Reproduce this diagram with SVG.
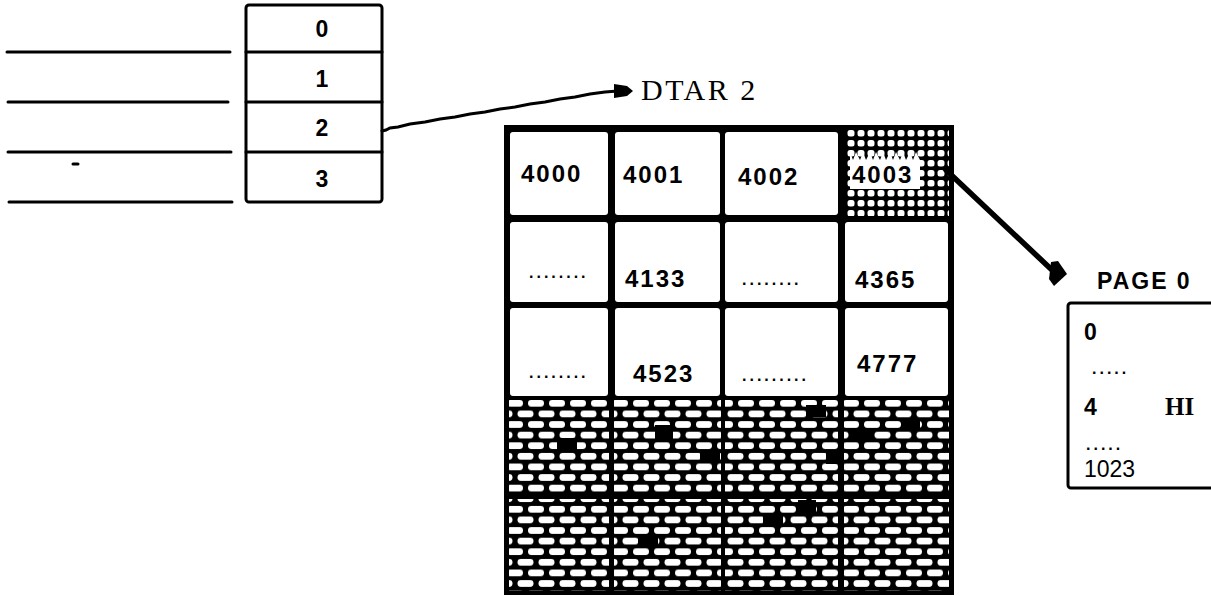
<svg xmlns="http://www.w3.org/2000/svg" width="1211" height="596" viewBox="0 0 1211 596">
<style>
.ln{stroke:#000;stroke-width:3;fill:none;stroke-linecap:round}
.idx{font-family:"Liberation Sans",Arial,sans-serif;font-weight:bold;font-size:23px;text-anchor:middle}
.num{font-family:"Liberation Sans",Arial,sans-serif;font-weight:bold;font-size:24px;letter-spacing:2px}
.dots{font-family:"Liberation Sans",Arial,sans-serif;font-weight:bold;font-size:16px;letter-spacing:3px}
.pg{font-family:"Liberation Sans",Arial,sans-serif;font-size:23px}
.cell{fill:#fff}
</style>
<defs>
<pattern id="brick" patternUnits="userSpaceOnUse" x="505" y="398" width="21" height="21.2">
<rect width="21" height="21.2" fill="#000"/>
<rect x="2" y="2" width="16" height="6.6" rx="3.3" fill="#fff"/>
<rect x="12.5" y="12.6" width="16" height="6.6" rx="3.3" fill="#fff"/>
<rect x="-8.5" y="12.6" width="16" height="6.6" rx="3.3" fill="#fff"/>
</pattern>
<pattern id="dotp" patternUnits="userSpaceOnUse" x="846" y="128" width="10" height="10">
<rect width="10" height="10" fill="#000"/>
<rect x="1.5" y="2" width="7" height="6.5" rx="2.5" fill="#fff"/>
</pattern>
</defs>

<g id="lines">
<line class="ln" x1="7" y1="52" x2="230" y2="52"/>
<line class="ln" x1="8" y1="102" x2="228" y2="102"/>
<line class="ln" x1="8" y1="152" x2="231" y2="152"/>
<line class="ln" x1="9" y1="202" x2="232" y2="202"/>
<line class="ln" x1="73" y1="164" x2="78" y2="164" stroke-width="2"/>
</g>

<g id="table">
<rect x="246" y="5" width="136" height="197" rx="3" fill="#fff" stroke="#000" stroke-width="3"/>
<line class="ln" x1="246" y1="52" x2="382" y2="52"/>
<line class="ln" x1="246" y1="102" x2="382" y2="102"/>
<line class="ln" x1="246" y1="152" x2="382" y2="152"/>
<text class="idx" x="322" y="37">0</text>
<text class="idx" x="322" y="87">1</text>
<text class="idx" x="322" y="136">2</text>
<text class="idx" x="322" y="187">3</text>
</g>

<g id="dtar-label">
<text x="641" y="100" font-family="'Liberation Serif','Times New Roman',serif" font-size="30" letter-spacing="2.5">DTAR 2</text>
</g>

<g id="grid">
<rect x="504" y="125" width="450" height="470" fill="#000"/>
<rect class="cell" x="510" y="132" width="98" height="83" rx="3"/>
<rect class="cell" x="615" y="132" width="105" height="83" rx="3"/>
<rect class="cell" x="725" y="132" width="113" height="83" rx="3"/>
<rect x="845" y="128" width="104" height="88" fill="url(#dotp)"/>
<path d="M850,189 L850,152 L853,160 L856,152 L860,160 L863,152 L866,160 L870,152 L873,160 L876,152 L880,160 L883,152 L886,160 L890,152 L893,160 L896,152 L900,160 L903,152 L906,160 L910,152 L913,160 L916,152 L920,160 L920,189 Z" fill="#fff"/>
<rect class="cell" x="510" y="222" width="98" height="80" rx="3"/>
<rect class="cell" x="615" y="222" width="105" height="80" rx="3"/>
<rect class="cell" x="725" y="222" width="113" height="80" rx="3"/>
<rect class="cell" x="845" y="222" width="103" height="80" rx="3"/>
<rect class="cell" x="510" y="308" width="98" height="88" rx="3"/>
<rect class="cell" x="615" y="308" width="105" height="88" rx="3"/>
<rect class="cell" x="725" y="308" width="113" height="88" rx="3"/>
<rect class="cell" x="845" y="308" width="103" height="88" rx="3"/>
<rect x="509" y="400" width="100" height="95" fill="url(#brick)"/>
<rect x="614" y="400" width="107" height="95" fill="url(#brick)"/>
<rect x="725" y="400" width="113" height="95" fill="url(#brick)"/>
<rect x="844" y="400" width="105" height="95" fill="url(#brick)"/>
<rect x="509" y="499" width="100" height="92" fill="url(#brick)"/>
<rect x="614" y="499" width="107" height="92" fill="url(#brick)"/>
<rect x="725" y="499" width="113" height="92" fill="url(#brick)"/>
<rect x="844" y="499" width="105" height="92" fill="url(#brick)"/>
<g fill="#000">
<rect x="557" y="438" width="20" height="12"/>
<rect x="655" y="425" width="18" height="14"/>
<rect x="700" y="450" width="20" height="12"/>
<rect x="806" y="405" width="20" height="12"/>
<rect x="826" y="450" width="14" height="14"/>
<rect x="852" y="428" width="20" height="12"/>
<rect x="902" y="418" width="18" height="12"/>
<rect x="638" y="535" width="20" height="12"/>
<rect x="763" y="515" width="20" height="12"/>
<rect x="798" y="500" width="18" height="13"/>
</g>
<text class="num" x="521" y="182">4000</text>
<text class="num" x="623" y="183">4001</text>
<text class="num" x="738" y="185">4002</text>
<text class="num" x="852" y="183">4003</text>
<text class="dots" x="529" y="278">........</text>
<text class="num" x="625" y="287">4133</text>
<text class="dots" x="742" y="285">........</text>
<text class="num" x="855" y="288">4365</text>
<text class="dots" x="529" y="378">........</text>
<text class="num" x="633" y="382">4523</text>
<text class="dots" x="742" y="381">.........</text>
<text class="num" x="857" y="372">4777</text>
</g>

<g id="page0">
<text class="pg" x="1097" y="289" font-size="21" font-weight="bold" letter-spacing="2">PAGE 0</text>
<rect x="1068" y="303" width="150" height="185" rx="3" fill="#fff" stroke="#000" stroke-width="3"/>
<text class="pg" x="1084" y="340" font-weight="bold">0</text>
<text class="dots" x="1092" y="374" font-size="12" font-weight="normal" letter-spacing="4">.....</text>
<text class="pg" x="1084" y="415" font-weight="bold">4</text>
<text x="1165" y="415" font-family="'Liberation Serif','Times New Roman',serif" font-weight="bold" font-size="25">HI</text>
<text class="dots" x="1086" y="450" font-size="12" font-weight="normal" letter-spacing="4">.....</text>
<text class="pg" x="1084" y="477" font-size="28">1023</text>
</g>

<g id="connectors">
<polyline class="ln" stroke-width="3" points="382,131 386,130 390,128 398,127 410,124 425,122 440,119 455,117 470,114 485,112 500,109 515,107 530,104 545,102 560,99 575,97 590,94 605,92 618,91"/>
<path d="M614,84 L627,86 L633,91 L627,96 L614,98 Z" fill="#000"/>
<line x1="946" y1="170" x2="1052" y2="270" stroke="#000" stroke-width="5.5" stroke-linecap="round"/>
<path d="M1051,262 L1058,261 L1067,274 L1054,286 L1049,279 Z" fill="#000"/>
</g>
</svg>
